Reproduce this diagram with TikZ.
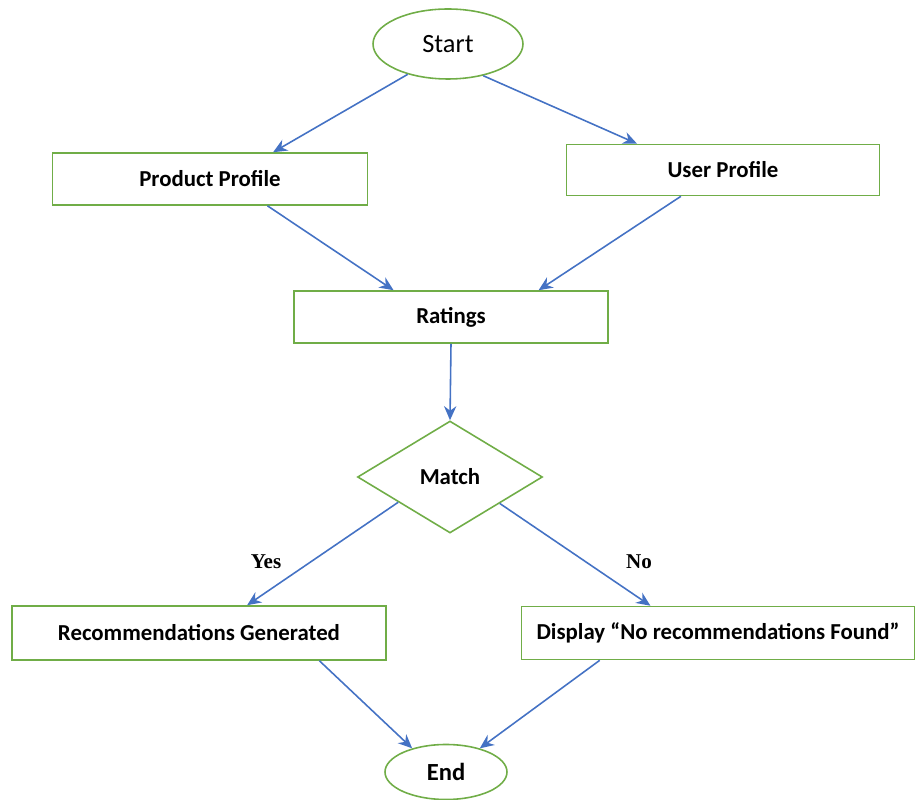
\documentclass[tikz,border=0pt]{standalone}
\usepackage{fontspec}
\setmainfont{Carlito}
\newfontfamily\yesnofont{Liberation Serif}
\usetikzlibrary{shapes.geometric,arrows.meta}
\definecolor{boxgreen}{RGB}{112,173,71}
\definecolor{flowblue}{RGB}{68,114,196}

\begin{document}
\begin{tikzpicture}[x=0.02cm,y=-0.02cm,
  box/.style={rectangle,draw=boxgreen,line width=0.9pt,inner sep=0pt,font=\fontsize{13}{15}\selectfont\bfseries},
  term/.style={ellipse,draw=boxgreen,line width=0.9pt,inner sep=0pt},
  flow/.style={draw=flowblue,line width=0.9pt,-{Stealth[length=8pt,width=7pt]}},
  answer/.style={font=\yesnofont\fontsize{12}{14}\selectfont\bfseries}]
\useasboundingbox (0,0) rectangle (917,800);
\draw (448,44) node[term,minimum width=3cm,minimum height=1.4cm,font=\fontsize{15}{17}\selectfont] (start) {Start};
\draw (210,179) node[box,minimum width=6.3cm,minimum height=1.04cm] (product) {Product Profile};
\draw (723,170) node[box,minimum width=6.26cm,minimum height=1.02cm] (user) {User Profile};
\draw (451,317) node[box,minimum width=6.28cm,minimum height=1.04cm] (ratings) {Ratings};
\draw (450,477) node[diamond,draw=boxgreen,line width=0.9pt,inner sep=0pt,minimum width=3.7cm,minimum height=2.24cm,font=\fontsize{13}{15}\selectfont\bfseries] (match) {Match};
\draw (199,633) node[box,minimum width=7.48cm,minimum height=1.08cm] (found) {Recommendations Generated};
\draw (718,633) node[box,minimum width=7.86cm,minimum height=1.06cm] (notfound) {Display “No recommendations Found”};
\draw (446,772) node[term,minimum width=2.44cm,minimum height=1.1cm,font=\fontsize{14}{16}\selectfont\bfseries] (end) {End};
\draw (266,562) node[answer] (yes) {Yes};
\draw (639,562) node[answer] (no) {No};
\path (start.217) edge[flow] (product.23);
\path (start.318) edge[flow] (user.163);
\path (product.-25) edge[flow] (ratings.155);
\path (user.212) edge[flow] (ratings.17);
\path (ratings.south) edge[flow] (match.north);
\path (match.206) edge[flow] (found.30);
\path (match.-28) edge[flow] (notfound.158);
\path (found.-13) edge[flow] (end.145);
\path (notfound.193) edge[flow] (end.35);
\end{tikzpicture}
\end{document}
